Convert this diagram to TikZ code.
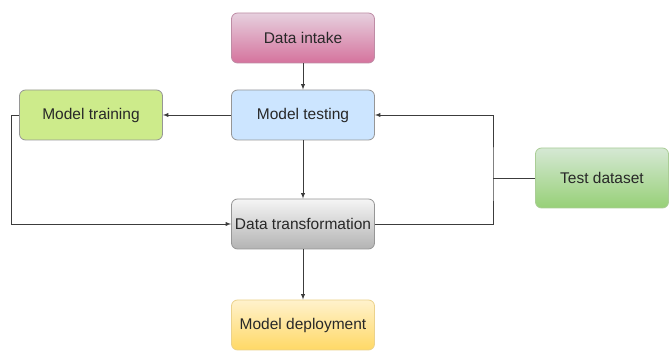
\documentclass[tikz,border=0pt]{standalone}
\usepackage{fontspec}
\setmainfont{Liberation Sans}
\usetikzlibrary{arrows, positioning, calc}
\definecolor{intaketop}{RGB}{230,208,222}
\definecolor{intakebot}{RGB}{213,115,157}
\definecolor{intakeline}{RGB}{190,140,165}
\definecolor{testingfill}{RGB}{204,229,255}
\definecolor{trainingfill}{RGB}{205,235,139}
\definecolor{boxline}{RGB}{150,150,150}
\definecolor{transtop}{RGB}{245,245,245}
\definecolor{transbot}{RGB}{179,179,179}
\definecolor{datatop}{RGB}{213,232,212}
\definecolor{databot}{RGB}{151,208,119}
\definecolor{dataline}{RGB}{170,205,150}
\definecolor{deploytop}{RGB}{255,242,204}
\definecolor{deploybot}{RGB}{255,217,102}
\definecolor{deployline}{RGB}{235,210,140}
\definecolor{textcolor}{RGB}{40,40,40}
\definecolor{linkcolor}{RGB}{60,60,60}

\begin{document}
\begin{tikzpicture}[x=1pt, y=-1pt,
    stage/.style={rectangle, rounded corners=6pt, draw=boxline, line width=0.8pt,
        minimum width=143pt, minimum height=50pt, inner sep=0pt,
        text=textcolor, font=\fontsize{15.5}{18}\selectfont},
    link/.style={draw=linkcolor, line width=0.9pt},
    arrowlink/.style={link, -latex}
]
    \useasboundingbox (0,0) rectangle (670,352);

    % stages
    \node[stage, top color=intaketop, bottom color=intakebot, draw=intakeline] (intake) at (303,38) {Data intake};
    \node[stage, fill=testingfill] (testing) at (303,115) {Model testing};
    \node[stage, fill=trainingfill] (training) at (91,115) {Model training};
    \node[stage, top color=transtop, bottom color=transbot] (transform) at (303,224) {Data transformation};
    \node[stage, top color=datatop, bottom color=databot, draw=dataline,
        minimum width=133pt, minimum height=60pt] (dataset) at (602,178) {Test dataset};
    \node[stage, top color=deploytop, bottom color=deploybot, draw=deployline] (deploy) at (303,325) {Model deployment};

    \coordinate (join) at (493,178);

    % connectors
    \draw[arrowlink] (intake) -- (testing);
    \draw[arrowlink] (testing) -- (training);
    \draw[arrowlink] (testing) -- (transform);
    \draw[arrowlink] (transform) -- (deploy);
    \draw[arrowlink] (training.west) -- ++(-8,0) |- (transform.west);
    \draw[arrowlink] (transform.east) -| (join) |- (testing.east);
    \draw[link] (dataset.west) -- (join);
\end{tikzpicture}
\end{document}
